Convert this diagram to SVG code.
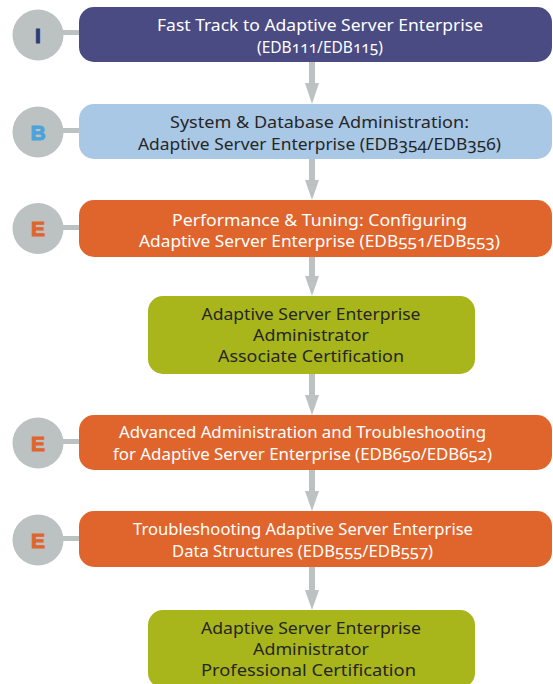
<svg xmlns="http://www.w3.org/2000/svg" width="553" height="684" viewBox="0 0 553 684">
<style>
.t{font-family:"Noto Sans","Open Sans",sans-serif;font-size:17px;text-anchor:middle;font-variant-numeric:oldstyle-nums}
.w{fill:#ffffff}
.d{fill:#262626}
.c{fill:#bcc1c1}
.lt{font-family:"Liberation Sans",Arial,sans-serif;font-size:21px;font-weight:700;text-anchor:middle;stroke-width:1;paint-order:stroke}
.ar{fill:#bcc1c1}
</style>
<rect width="553" height="684" fill="#ffffff"/>
<g id="connectors">
  <rect class="ar" x="60" y="30" width="22" height="5"/>
  <rect class="ar" x="60" y="128" width="22" height="5"/>
  <rect class="ar" x="60" y="225" width="22" height="5"/>
  <rect class="ar" x="60" y="439" width="22" height="5"/>
  <rect class="ar" x="60" y="536" width="22" height="5"/>
  <path class="ar" d="M309,62 h6 v21 h4 l-7,21 l-7,-21 h4 z"/>
  <path class="ar" d="M309,159 h6 v21 h4 l-7,20 l-7,-20 h4 z"/>
  <path class="ar" d="M309,257 h6 v19 h4 l-7,20 l-7,-20 h4 z"/>
  <path class="ar" d="M309,374 h6 v21 h4 l-7,20 l-7,-20 h4 z"/>
  <path class="ar" d="M309,470 h6 v21 h4 l-7,20 l-7,-20 h4 z"/>
  <path class="ar" d="M309,567 h6 v23 h4 l-7,20 l-7,-20 h4 z"/>
</g>
<g id="level1">
  <circle class="c" cx="38" cy="35" r="25.5"/>
  <text class="lt" x="38" y="42.5" fill="#2f3a78" stroke="#2f3a78">I</text>
</g>
<g id="node1">
  <rect x="79" y="7" width="473" height="55" rx="15" fill="#4a4b82"/>
  <text class="t w" x="320" y="31" textLength="326" lengthAdjust="spacingAndGlyphs">Fast Track to Adaptive Server Enterprise</text>
  <text class="t w" x="320" y="52.5" textLength="126" lengthAdjust="spacingAndGlyphs">(EDB111/EDB115)</text>
</g>
<g id="level2">
  <circle class="c" cx="38" cy="132" r="25.5"/>
  <text class="lt" x="38" y="139.5" fill="#4ba3dc" stroke="#4ba3dc">B</text>
</g>
<g id="node2">
  <rect x="79" y="104" width="473" height="55" rx="15" fill="#a9c8e6"/>
  <text class="t d" x="319.5" y="128" textLength="299" lengthAdjust="spacingAndGlyphs">System &amp; Database Administration:</text>
  <text class="t d" x="319.5" y="150" textLength="363" lengthAdjust="spacingAndGlyphs">Adaptive Server Enterprise (EDB354/EDB356)</text>
</g>
<g id="level3">
  <circle class="c" cx="38" cy="228.5" r="25.5"/>
  <text class="lt" x="38" y="236" fill="#e0652d" stroke="#e0652d">E</text>
</g>
<g id="node3">
  <rect x="79" y="200" width="473" height="57" rx="15" fill="#e0652d"/>
  <text class="t w" x="319.5" y="226" textLength="295" lengthAdjust="spacingAndGlyphs">Performance &amp; Tuning: Configuring</text>
  <text class="t w" x="319.5" y="247" textLength="361" lengthAdjust="spacingAndGlyphs">Adaptive Server Enterprise (EDB551/EDB553)</text>
</g>
<g id="cert1">
  <rect x="148" y="296" width="327" height="78" rx="15" fill="#a8b51b"/>
  <text class="t d" x="311" y="320" textLength="219" lengthAdjust="spacingAndGlyphs">Adaptive Server Enterprise</text>
  <text class="t d" x="311" y="341" textLength="116" lengthAdjust="spacingAndGlyphs">Administrator</text>
  <text class="t d" x="311" y="362" textLength="186" lengthAdjust="spacingAndGlyphs">Associate Certification</text>
</g>
<g id="level4">
  <circle class="c" cx="38" cy="443" r="25.5"/>
  <text class="lt" x="38" y="450.5" fill="#e0652d" stroke="#e0652d">E</text>
</g>
<g id="node4">
  <rect x="79" y="415" width="473" height="55" rx="15" fill="#e0652d"/>
  <text class="t w" x="302.5" y="438" textLength="367" lengthAdjust="spacingAndGlyphs">Advanced Administration and Troubleshooting</text>
  <text class="t w" x="302.5" y="460" textLength="379" lengthAdjust="spacingAndGlyphs">for Adaptive Server Enterprise (EDB650/EDB652)</text>
</g>
<g id="level5">
  <circle class="c" cx="38" cy="540" r="25.5"/>
  <text class="lt" x="38" y="547.5" fill="#e0652d" stroke="#e0652d">E</text>
</g>
<g id="node5">
  <rect x="79" y="511" width="473" height="56" rx="15" fill="#e0652d"/>
  <text class="t w" x="303" y="535" textLength="340" lengthAdjust="spacingAndGlyphs">Troubleshooting Adaptive Server Enterprise</text>
  <text class="t w" x="302.5" y="557" textLength="261" lengthAdjust="spacingAndGlyphs">Data Structures (EDB555/EDB557)</text>
</g>
<g id="cert2">
  <rect x="148" y="610" width="327" height="78" rx="15" fill="#a8b51b"/>
  <text class="t d" x="311" y="634" textLength="220" lengthAdjust="spacingAndGlyphs">Adaptive Server Enterprise</text>
  <text class="t d" x="311" y="655" textLength="116" lengthAdjust="spacingAndGlyphs">Administrator</text>
  <text class="t d" x="308.5" y="676" textLength="215" lengthAdjust="spacingAndGlyphs">Professional Certification</text>
</g>
</svg>
